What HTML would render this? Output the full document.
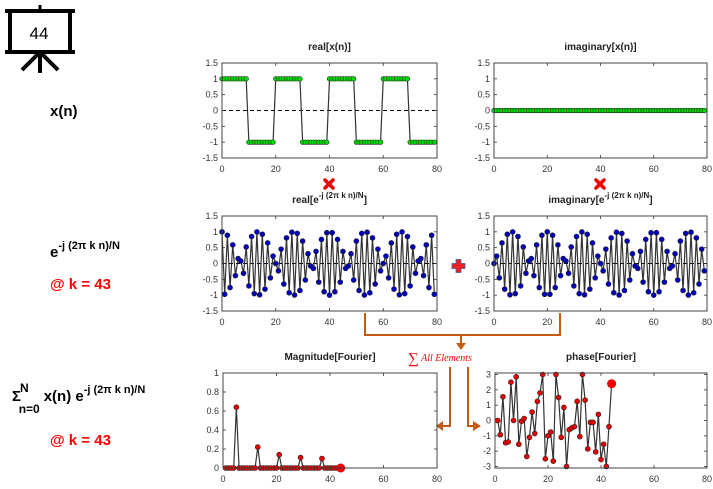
<!DOCTYPE html>
<html><head><meta charset="utf-8">
<style>
html,body{margin:0;padding:0;background:#fff;}
svg{display:block;font-family:"Liberation Sans",sans-serif;}
.lbl{font-weight:bold;font-size:15px;fill:#000;}
.red{font-weight:bold;font-size:15px;fill:#ff0000;}
.ttl{font-weight:bold;font-size:10px;fill:#222;}
.tick{font-size:9px;fill:#333;}
</style></head>
<body>
<svg id="root" width="713" height="489" viewBox="0 0 713 489" xmlns="http://www.w3.org/2000/svg">
  <!-- easel icon -->
  <g stroke="#000" fill="none">
    <line x1="40" y1="5" x2="40" y2="11" stroke-width="3"/>
    <line x1="5" y1="11" x2="75" y2="11" stroke-width="4"/>
    <rect x="10" y="11" width="60" height="41" stroke-width="4"/>
    <line x1="5" y1="52" x2="75" y2="52" stroke-width="4"/>
    <line x1="40" y1="52" x2="40" y2="73" stroke-width="4"/>
    <line x1="40" y1="52" x2="22" y2="70" stroke-width="4"/>
    <line x1="40" y1="52" x2="58" y2="70" stroke-width="4"/>
  </g>
  <text x="39" y="39" text-anchor="middle" font-size="17" fill="#000">44</text>

  <!-- left labels -->
  <text class="lbl" x="50" y="116">x(n)</text>
  <text class="lbl" x="50" y="257">e<tspan font-size="11" dy="-8">-j (2π k n)/N</tspan></text>
  <text class="red" x="50" y="289">@ k = 43</text>
  <text class="lbl" x="12" y="401">Σ<tspan font-size="12" dy="-9" dx="-1">N</tspan><tspan font-size="12" dx="-10" dy="21">n=0</tspan><tspan dx="4" dy="-12">x(n) e</tspan><tspan font-size="11" dy="-8">-j (2π k n)/N</tspan></text>
  <text class="red" x="50" y="445">@ k = 43</text>

  <!-- operators -->
  <g stroke="#e00" stroke-width="3.5" stroke-linecap="round">
    <line x1="325" y1="180" x2="333" y2="188"/><line x1="333" y1="180" x2="325" y2="188"/>
  </g>
  <g stroke="#e00" stroke-width="3.5" stroke-linecap="round">
    <line x1="596" y1="180" x2="604" y2="188"/><line x1="604" y1="180" x2="596" y2="188"/>
  </g>
  <g>
    <rect x="452" y="263.5" width="13" height="5" fill="#e22" stroke="#4060a0" stroke-width="0.8"/>
    <rect x="456" y="259.5" width="5" height="13" fill="#e22" stroke="#4060a0" stroke-width="0.8"/>
    <rect x="452.5" y="264" width="12" height="4" fill="#e22"/>
  </g>

  <!-- connectors -->
  <g stroke="#c55a11" stroke-width="2" fill="none">
    <polyline points="365,313 365,335 560,335 560,313"/>
    <line x1="461" y1="335" x2="461" y2="344"/>
    <polyline points="450,367 450,426 442,426"/>
    <polyline points="468,367 468,426 474,426"/>
  </g>
  <g fill="#c55a11">
    <polygon points="456,343 466,343 461,350"/>
    <polygon points="443,421 443,431 436,426"/>
    <polygon points="473,421 473,431 481,426"/>
  </g>
  <text x="440" y="361" text-anchor="middle" fill="#e00" font-family="Liberation Serif,serif" font-size="10" font-style="italic"><tspan font-size="15" font-style="normal" dy="2">∑</tspan><tspan dy="-2"> All Elements</tspan></text>

  <g id="plots"></g>
</svg>
<script>
// ---- data ----
const signalReal = [1,1,1,1,1,1,1,1,1,1,-1,-1,-1,-1,-1,-1,-1,-1,-1,-1,1,1,1,1,1,1,1,1,1,1,-1,-1,-1,-1,-1,-1,-1,-1,-1,-1,1,1,1,1,1,1,1,1,1,1,-1,-1,-1,-1,-1,-1,-1,-1,-1,-1,1,1,1,1,1,1,1,1,1,1,-1,-1,-1,-1,-1,-1,-1,-1,-1,-1];
const signalImag = [0,0,0,0,0,0,0,0,0,0,0,0,0,0,0,0,0,0,0,0,0,0,0,0,0,0,0,0,0,0,0,0,0,0,0,0,0,0,0,0,0,0,0,0,0,0,0,0,0,0,0,0,0,0,0,0,0,0,0,0,0,0,0,0,0,0,0,0,0,0,0,0,0,0,0,0,0,0,0,0];
const basisReal = [1,-0.972,0.891,-0.760,0.588,-0.383,0.156,0.078,-0.309,0.522,-0.707,0.853,-0.951,0.997,-0.988,0.924,-0.809,0.649,-0.454,0.233,0,-0.233,0.454,-0.649,0.809,-0.924,0.988,-0.997,0.951,-0.853,0.707,-0.522,0.309,-0.078,-0.156,0.383,-0.588,0.760,-0.891,0.972,-1,
 0.972,-0.891,0.760,-0.588,0.383,-0.156,-0.078,0.309,-0.522,0.707,-0.853,0.951,-0.997,0.988,-0.924,0.809,-0.649,0.454,-0.233,0,0.233,-0.454,0.649,-0.809,0.924,-0.988,0.997,-0.951,0.853,-0.707,0.522,-0.309,0.078,0.156,-0.383,0.588,-0.760,0.891,-0.972];
const basisImag = [0,0.233,-0.454,0.649,-0.809,0.924,-0.988,0.997,-0.951,0.853,-0.707,0.522,-0.309,0.078,0.156,-0.383,0.588,-0.760,0.891,-0.972,1,-0.972,0.891,-0.760,0.588,-0.383,0.156,0.078,-0.309,0.522,-0.707,0.853,-0.951,0.997,-0.988,0.924,-0.809,0.649,-0.454,0.233,0,
 -0.233,0.454,-0.649,0.809,-0.924,0.988,-0.997,0.951,-0.853,0.707,-0.522,0.309,-0.078,-0.156,0.383,-0.588,0.760,-0.891,0.972,-1,0.972,-0.891,0.760,-0.588,0.383,-0.156,-0.078,0.309,-0.522,0.707,-0.853,0.951,-0.997,0.988,-0.924,0.809,-0.649,0.454,-0.233];
const magnitude = [0,0,0,0,0.64,0,0,0,0,0,0,0,0.22,0,0,0,0,0,0,0,0.14,0,0,0,0,0,0,0,0.11,0,0,0,0,0,0,0,0.10,0,0,0,0,0,0,0];
const phase = [0,-0.93,1.55,-1.45,-1.4,2.5,0,2.85,-1.55,-0.05,0.13,-2.35,-1.1,0.55,-0.85,1.25,1.8,3,-2.5,-1,-0.75,-2.65,3,1.5,-1.1,0.85,-3,-0.6,-0.48,-0.4,1.25,-1.05,3,1.33,-1.85,-0.12,-0.12,-2.05,0.4,-2.55,-1.55,-3,-0.4,2.4];
const xTicks = [0,20,40,60,80];
const yTicksSig = [-1.5,-1,-0.5,0,0.5,1,1.5];
const yTicksMag = [0,0.2,0.4,0.6,0.8,1];
const yTicksPhase = [-3,-2,-1,0,1,2,3];

const NS = "http://www.w3.org/2000/svg";
const plots = document.getElementById('plots');
function el(tag, attrs, parent){
  const e = document.createElementNS(NS, tag);
  for (const k in attrs) e.setAttribute(k, attrs[k]);
  (parent||plots).appendChild(e);
  return e;
}
function fmt(v){ return String(v); }

function plot(o){
  const g = el('g', {});
  
  
  const sx = v => o.x0 + (v - o.xmin) / (o.xmax - o.xmin) * (o.x1 - o.x0);
  const sy = v => o.y1 - (v - o.ymin) / (o.ymax - o.ymin) * (o.y1 - o.y0);
  // title
  const t = el('text', {x:(o.x0+o.x1)/2, y:o.y0-13, 'text-anchor':'middle', class:'ttl'}, g);
  t.innerHTML = o.title;
  
  
  // zero line
  if (o.zero) {
    const z = el('line', {x1:o.x0, x2:o.x1, y1:sy(0), y2:sy(0), stroke:'#000', 'stroke-width':1, 'stroke-dasharray':'4,3'}, g);
    
    
  }
  // ticks
  for (const v of xTicks) {
    const x = sx(v);
    el('line', {x1:x, x2:x, y1:o.y1, y2:o.y1-3, stroke:'#333', 'stroke-width':0.8}, g);
    el('line', {x1:x, x2:x, y1:o.y0, y2:o.y0+3, stroke:'#333', 'stroke-width':0.8}, g);
    const tl = el('text', {x:x, y:o.y1+14, 'text-anchor':'middle', class:'tick'}, g);
    tl.textContent = fmt(v);
    
    
  }
  for (const v of o.yTicks) {
    const y = sy(v);
    el('line', {x1:o.x0, x2:o.x0+3, y1:y, y2:y, stroke:'#333', 'stroke-width':0.8}, g);
    el('line', {x1:o.x1, x2:o.x1-3, y1:y, y2:y, stroke:'#333', 'stroke-width':0.8}, g);
    const tl = el('text', {x:o.x0-4, y:y+3, 'text-anchor':'end', class:'tick'}, g);
    tl.textContent = fmt(v);
    
    
  }
  // series line
  const pts = o.ys.map((v,i) => sx(i + o.xoff) + ',' + sy(v)).join(' ');
  const pl = el('polyline', {points:pts, fill:'none', stroke:'#333', 'stroke-width':1.2}, g);
  
  
  o.ys.forEach((v,i) => {
    const last = o.bigLast && i === o.ys.length - 1;
    const c = el('circle', {cx:sx(i + o.xoff), cy:sy(v), r: last ? 4.5 : o.r, fill:o.color, stroke: last ? 'none' : '#222', 'stroke-width':0.6}, g);
    
    
  });
  // box
  const b = el('rect', {x:o.x0, y:o.y0, width:o.x1-o.x0, height:o.y1-o.y0, fill:'none', stroke:'#444', 'stroke-width':1}, g);
  
  
}

const LX0 = 222, LX1 = 437, RX0 = 494, RX1 = 707;
plot({name:'signal-real-plot', title:'real[x(n)]', x0:LX0, x1:LX1, y0:63, y1:158, xmin:0, xmax:80, ymin:-1.5, ymax:1.5, yTicks:yTicksSig, ys:signalReal, xoff:0, color:'#00dd00', r:2.3, zero:true});
plot({name:'signal-imag-plot', title:'imaginary[x(n)]', x0:RX0, x1:RX1, y0:63, y1:158, xmin:0, xmax:80, ymin:-1.5, ymax:1.5, yTicks:yTicksSig, ys:signalImag, xoff:0, color:'#00dd00', r:2.3, zero:true});
plot({name:'basis-real-plot', title:'real[e<tspan font-size="8" dy="-5">-j (2π k n)/N</tspan><tspan dy="5">]</tspan>', x0:LX0, x1:LX1, y0:216, y1:311, xmin:0, xmax:80, ymin:-1.5, ymax:1.5, yTicks:yTicksSig, ys:basisReal, xoff:0, color:'#0000c0', r:2.5, zero:true});
plot({name:'basis-imag-plot', title:'imaginary[e<tspan font-size="8" dy="-5">-j (2π k n)/N</tspan><tspan dy="5">]</tspan>', x0:RX0, x1:RX1, y0:216, y1:311, xmin:0, xmax:80, ymin:-1.5, ymax:1.5, yTicks:yTicksSig, ys:basisImag, xoff:0, color:'#0000c0', r:2.5, zero:true});
plot({name:'magnitude-plot', title:'Magnitude[Fourier]', x0:223, x1:437, y0:373, y1:468, xmin:0, xmax:80, ymin:0, ymax:1, yTicks:yTicksMag, ys:magnitude, xoff:1, color:'#ee0000', r:2.5, zero:true, bigLast:true});
plot({name:'phase-plot', title:'phase[Fourier]', x0:495, x1:707, y0:373, y1:468, xmin:0, xmax:80, ymin:-3.1, ymax:3.1, yTicks:yTicksPhase, ys:phase, xoff:1, color:'#ee0000', r:2.5, zero:false, bigLast:true});
</script>
</body></html>
